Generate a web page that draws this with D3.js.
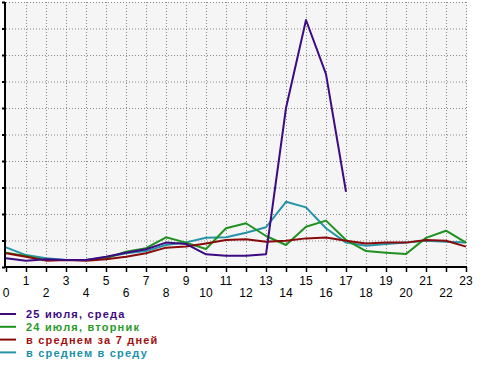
<!DOCTYPE html>
<html><head><meta charset="utf-8">
<script src="https://cdn.jsdelivr.net/npm/d3@7/dist/d3.min.js"></script>
<style>html,body{margin:0;padding:0;background:#fff;}svg{display:block;}</style>
</head><body>
<script>
const hours = d3.range(0, 24);
const tickLabels = hours.map(String);
const yTicks = d3.range(0, 11);
const seriesNames = ["25 июля, среда", "24 июля, вторник", "в среднем за 7 дней", "в среднем в среду"];
const wed25 = [0.33,0.24,0.29,0.26,0.26,0.39,0.54,0.67,0.92,0.87,0.48,0.42,0.42,0.48,6.0,9.32,7.28,2.84];
const tue24 = [0.54,0.42,0.26,0.26,0.26,0.33,0.58,0.71,1.12,0.92,0.68,1.46,1.65,1.17,0.83,1.52,1.75,1.02,0.6,0.54,0.49,1.1,1.37,0.92];
const avg7 = [0.52,0.39,0.24,0.26,0.24,0.29,0.39,0.52,0.73,0.77,0.89,1.02,1.05,0.95,0.99,1.08,1.11,0.99,0.89,0.92,0.92,1.02,0.99,0.77];
const avgWed = [0.74,0.45,0.33,0.26,0.26,0.37,0.52,0.6,0.83,0.93,1.1,1.12,1.29,1.5,2.46,2.25,1.46,0.92,0.8,0.87,0.92,0.99,0.95,0.92];
const lineColors = ["#3d0a82", "#1f911f", "#8a0a0a", "#2594a8"];
const textColors = ["#3d0a82", "#2a9a2a", "#a01010", "#1a90a8"];

const W = 493, H = 365;
const svg = d3.select("body").append("svg").attr("width", W).attr("height", H);
const x = d3.scaleLinear().domain([0, 23]).range([6, 466]);
const y = d3.scaleLinear().domain([0, 10]).range([267, 2]);

svg.append("rect").attr("x", 6).attr("y", 2).attr("width", 461).attr("height", 265).attr("fill", "#f5f5f5");

// grid
svg.append("g").selectAll("line").data(hours.slice(1)).join("line")
  .attr("x1", d => x(d) + 0.5).attr("x2", d => x(d) + 0.5).attr("y1", 2).attr("y2", 267)
  .attr("stroke", "#888").attr("stroke-width", 1).attr("stroke-dasharray", "1,2");
svg.append("g").selectAll("line").data(yTicks.slice(1)).join("line")
  .attr("x1", 6).attr("x2", 467).attr("y1", d => y(d) + 0.5).attr("y2", d => y(d) + 0.5)
  .attr("stroke", "#888").attr("stroke-width", 1).attr("stroke-dasharray", "1,2");

// lines
const line = d3.line().x((d, i) => x(i)).y(d => y(d));
const order = [[avgWed, 3], [tue24, 1], [avg7, 2], [wed25, 0]];
order.forEach(([data, ci]) => {
  svg.append("path").datum(data).attr("d", line).attr("fill", "none")
    .attr("stroke", lineColors[ci]).attr("stroke-width", 2).attr("stroke-linejoin", "round");
});

// axes
const yAxis = d3.axisLeft(y).tickValues(yTicks).tickSize(3).tickFormat("");
const gy = svg.append("g").attr("transform", "translate(5,0)").call(yAxis);
gy.select(".domain").attr("stroke", "#000").attr("stroke-width", 2).attr("d", "M0,2V268");
gy.selectAll(".tick line").attr("stroke", "#000").attr("stroke-width", 2);

const xAxis = d3.axisBottom(x).tickValues(hours).tickSize(5).tickFormat("");
const gx = svg.append("g").attr("transform", "translate(0,267)").call(xAxis);
gx.select(".domain").attr("stroke", "#000").attr("stroke-width", 2).attr("d", "M4,0H467");
gx.selectAll(".tick line").attr("stroke", "#000").attr("stroke-width", 1.5);

svg.append("g").selectAll("text").data(hours).join("text")
  .attr("x", d => x(d)).attr("y", d => d % 2 ? 285 : 297)
  .attr("text-anchor", "middle").attr("font-family", "Liberation Sans, Arial, sans-serif")
  .attr("font-size", 12).attr("fill", "#000").text(d => tickLabels[d]);

// legend
const lg = svg.append("g");
seriesNames.forEach((name, i) => {
  const yy = 314 + i * 12.8;
  lg.append("line").attr("x1", 0).attr("x2", 16).attr("y1", yy).attr("y2", yy)
    .attr("stroke", lineColors[i]).attr("stroke-width", 2);
  lg.append("text").attr("x", 26).attr("y", yy + 4.2)
    .attr("font-family", "Liberation Sans, Arial, sans-serif").attr("font-weight", "bold")
    .attr("font-size", 11).attr("letter-spacing", 1.2).attr("fill", textColors[i]).text(name);
});
</script>
</body></html>
